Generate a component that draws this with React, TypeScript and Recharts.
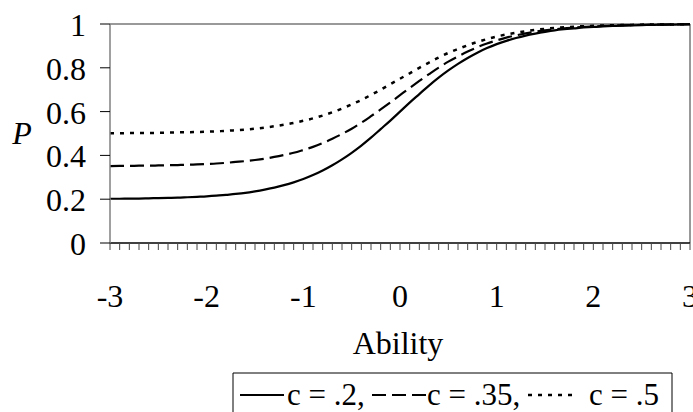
import { LineChart, Line, XAxis, YAxis, ReferenceLine } from 'recharts'

// ability scale, one point every 0.1
const ability = [
  -3, -2.9, -2.8, -2.7, -2.6, -2.5, -2.4, -2.3, -2.2, -2.1,
  -2, -1.9, -1.8, -1.7, -1.6, -1.5, -1.4, -1.3, -1.2, -1.1,
  -1, -0.9, -0.8, -0.7, -0.6, -0.5, -0.4, -0.3, -0.2, -0.1,
  0, 0.1, 0.2, 0.3, 0.4, 0.5, 0.6, 0.7, 0.8, 0.9,
  1, 1.1, 1.2, 1.3, 1.4, 1.5, 1.6, 1.7, 1.8, 1.9,
  2, 2.1, 2.2, 2.3, 2.4, 2.5, 2.6, 2.7, 2.8, 2.9,
  3,
]

// probability, c = .2
const pC20 = [
  0.202, 0.202, 0.203, 0.203, 0.204, 0.205, 0.206, 0.207, 0.209, 0.211,
  0.213, 0.216, 0.22, 0.224, 0.229, 0.236, 0.244, 0.253, 0.264, 0.277,
  0.292, 0.31, 0.331, 0.355, 0.382, 0.412, 0.445, 0.481, 0.52, 0.559,
  0.6, 0.641, 0.68, 0.719, 0.755, 0.788, 0.818, 0.845, 0.869, 0.89,
  0.908, 0.923, 0.936, 0.947, 0.956, 0.964, 0.971, 0.976, 0.98, 0.984,
  0.987, 0.989, 0.991, 0.993, 0.994, 0.995, 0.996, 0.997, 0.997, 0.998,
  0.998,
]

// c = .35
const pC35 = [
  0.351, 0.352, 0.352, 0.353, 0.353, 0.354, 0.355, 0.356, 0.357, 0.359,
  0.361, 0.363, 0.366, 0.37, 0.374, 0.379, 0.385, 0.393, 0.402, 0.412,
  0.425, 0.439, 0.456, 0.476, 0.498, 0.522, 0.549, 0.579, 0.61, 0.642,
  0.675, 0.708, 0.74, 0.771, 0.801, 0.828, 0.852, 0.874, 0.894, 0.911,
  0.925, 0.938, 0.948, 0.957, 0.965, 0.971, 0.976, 0.98, 0.984, 0.987,
  0.989, 0.991, 0.993, 0.994, 0.995, 0.996, 0.997, 0.997, 0.998, 0.998,
  0.999,
]

// c = .5
const pC50 = [
  0.501, 0.501, 0.502, 0.502, 0.502, 0.503, 0.504, 0.505, 0.506, 0.507,
  0.508, 0.51, 0.512, 0.515, 0.518, 0.522, 0.527, 0.533, 0.54, 0.548,
  0.558, 0.569, 0.582, 0.597, 0.614, 0.633, 0.653, 0.676, 0.7, 0.725,
  0.75, 0.775, 0.8, 0.824, 0.847, 0.868, 0.886, 0.903, 0.918, 0.931,
  0.943, 0.952, 0.96, 0.967, 0.973, 0.978, 0.982, 0.985, 0.988, 0.99,
  0.992, 0.993, 0.994, 0.995, 0.996, 0.997, 0.998, 0.998, 0.998, 0.999,
  0.999,
]

const yTicks = [0, 0.2, 0.4, 0.6, 0.8, 1]
const yTickLabels = ['0', '0.2', '0.4', '0.6', '0.8', '1']

const seriesNames = ['c = .2,', 'c = .35,', 'c = .5']
const seriesDash = ['', '14 6', '4 6']

const FONT = 'Liberation Serif, Times New Roman, serif'
const FS = 32

const data = ability.map((a, i) => ({
  ability: a,
  c20: pC20[i],
  c35: pC35[i],
  c50: pC50[i],
}))

// only whole numbers get a label, the rest are minor ticks
function XTick({ x, y, payload }: any) {
  const v = payload.value
  if (Math.abs(v - Math.round(v)) > 1e-6) return null
  return (
    <text x={x} y={y + 57} textAnchor="middle" style={{ fontFamily: FONT, fontSize: FS }} fill="#000">
      {Math.round(v)}
    </text>
  )
}

function YTick({ x, y, payload }: any) {
  const idx = yTicks.indexOf(payload.value)
  return (
    <text x={x} y={y + 12} textAnchor="end" style={{ fontFamily: FONT, fontSize: FS }} fill="#000">
      {yTickLabels[idx]}
    </text>
  )
}

// legend box, cut off by the bottom edge like the original
function LegendBox() {
  const txt = { fontFamily: FONT, fontSize: 31 }
  const ly = 395
  const by = 405
  return (
    <g>
      <polyline points="233,413 233,373 672,373 672,413" fill="none" stroke="#000" strokeWidth={1} />
      <line x1={240} y1={ly} x2={284} y2={ly} stroke="#000" strokeWidth={2.2} />
      <text x={287} y={by} style={txt}>{seriesNames[0]}</text>
      <line x1={372} y1={ly} x2={426} y2={ly} stroke="#000" strokeWidth={2.2} strokeDasharray={seriesDash[1]} />
      <text x={427} y={by} style={txt}>{seriesNames[1]}</text>
      <line x1={528} y1={ly} x2={578} y2={ly} stroke="#000" strokeWidth={2.5} strokeDasharray={seriesDash[2]} />
      <text x={589} y={by} style={txt}>{seriesNames[2]}</text>
    </g>
  )
}

export default function App() {
  return (
    <div style={{ position: 'absolute', left: 0, top: 0, width: 693, height: 412, background: '#fff', overflow: 'hidden', fontFamily: FONT }}>
      <LineChart width={693} height={412} data={data} margin={{ top: 24, right: 3, bottom: 109, left: 0 }}>
        <XAxis
          dataKey="ability"
          type="number"
          domain={[-3, 3]}
          ticks={ability}
          interval={0}
          tick={<XTick />}
          tickSize={7}
          tickMargin={0}
          height={60}
          axisLine={{ stroke: '#000', strokeWidth: 1.5 }}
          tickLine={{ stroke: '#444' }}
        />
        <YAxis
          type="number"
          domain={[0, 1]}
          ticks={yTicks}
          interval={0}
          tick={<YTick />}
          tickSize={10}
          tickMargin={14}
          width={110}
          axisLine={{ stroke: '#808080', strokeWidth: 1.5 }}
          tickLine={{ stroke: '#000' }}
        />
        <ReferenceLine y={1} stroke="#999" strokeWidth={2} />
        <ReferenceLine x={3} stroke="#999" strokeWidth={2} />
        <Line type="monotone" dataKey="c20" stroke="#000" strokeWidth={2.2} dot={false} isAnimationActive={false} />
        <Line type="monotone" dataKey="c35" stroke="#000" strokeWidth={2.2} strokeDasharray={seriesDash[1]} dot={false} isAnimationActive={false} />
        <Line type="monotone" dataKey="c50" stroke="#000" strokeWidth={2.5} strokeDasharray={seriesDash[2]} dot={false} isAnimationActive={false} />
        <text x={398} y={354} textAnchor="middle" style={{ fontFamily: FONT, fontSize: FS }} fill="#000">
          Ability
        </text>
        <text x={22} y={144} textAnchor="middle" style={{ fontFamily: FONT, fontSize: FS, fontStyle: 'italic' }} fill="#000">
          P
        </text>
        <LegendBox />
      </LineChart>
    </div>
  )
}
